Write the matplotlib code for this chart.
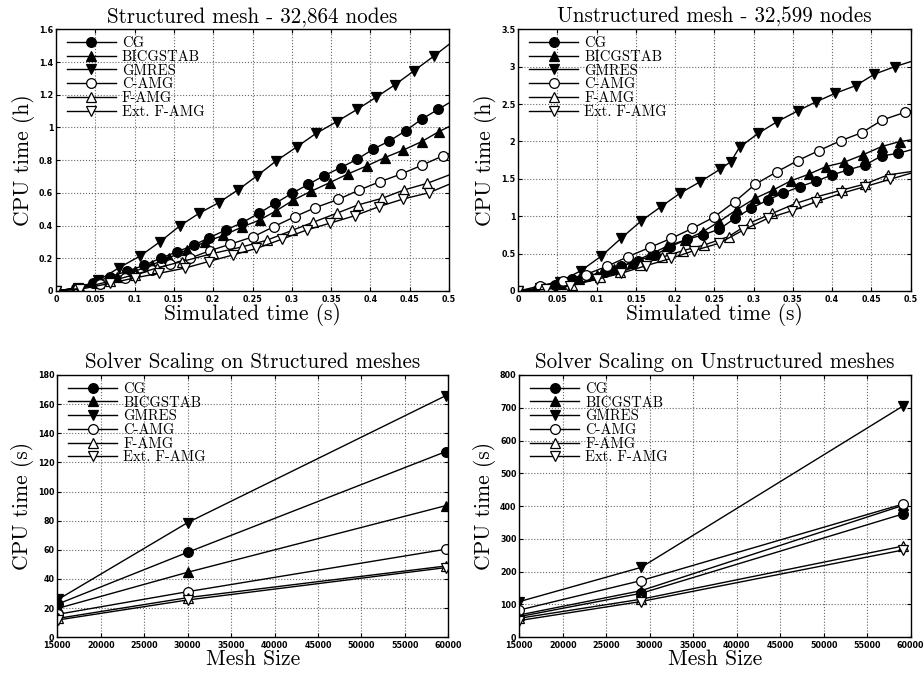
import matplotlib
matplotlib.use("Agg")
import matplotlib.pyplot as plt
from matplotlib.ticker import FormatStrFormatter, MultipleLocator

plt.rcParams['font.size'] = 6
plt.rcParams['axes.linewidth'] = 1.0
plt.rcParams['xtick.direction'] = 'in'
plt.rcParams['ytick.direction'] = 'in'

labels = ["CG", "BICGSTAB", "GMRES", "C-AMG", "F-AMG", "Ext. F-AMG"]
markers = ['o', '^', 'v', 'o', '^', 'v']
filled = [True, True, True, False, False, False]

# --- structured mesh, CPU time (h) vs simulated time (s); last point = line end, no marker
s_cg_x = [0, 0.025, 0.047, 0.069, 0.09, 0.112, 0.133, 0.154, 0.175, 0.195, 0.216, 0.237, 0.258,
          0.279, 0.3, 0.321, 0.341, 0.362, 0.383, 0.403, 0.424, 0.445, 0.465, 0.486, 0.5]
s_cg_y = [0, 0.016, 0.047, 0.088, 0.12, 0.157, 0.2, 0.24, 0.28, 0.326, 0.373, 0.418, 0.475,
          0.536, 0.597, 0.652, 0.705, 0.754, 0.805, 0.866, 0.917, 0.98, 1.05, 1.11, 1.15]
s_bi_x = [0, 0.03, 0.055, 0.078, 0.1, 0.122, 0.144, 0.166, 0.19, 0.213, 0.236, 0.259, 0.28,
          0.302, 0.325, 0.348, 0.371, 0.395, 0.418, 0.442, 0.465, 0.487, 0.5]
s_bi_y = [0, 0.02, 0.05, 0.085, 0.12, 0.16, 0.204, 0.25, 0.3, 0.34, 0.39, 0.434, 0.49,
          0.556, 0.611, 0.662, 0.715, 0.764, 0.815, 0.862, 0.913, 0.974, 1.005]
s_gm_x = [0, 0.028, 0.054, 0.0805, 0.107, 0.132, 0.158, 0.182, 0.207, 0.232, 0.256, 0.28, 0.306,
          0.331, 0.357, 0.383, 0.407, 0.431, 0.455, 0.481, 0.5]
s_gm_y = [0, 0.02, 0.065, 0.143, 0.214, 0.3, 0.4, 0.475, 0.54, 0.62, 0.705, 0.795, 0.88,
          0.964, 1.035, 1.11, 1.184, 1.26, 1.345, 1.437, 1.508]
s_ca_x = [0, 0.028, 0.056, 0.088, 0.122, 0.145, 0.17, 0.196, 0.221, 0.251, 0.277, 0.304, 0.33,
          0.359, 0.386, 0.412, 0.439, 0.466, 0.492, 0.5]
s_ca_y = [0, 0.018, 0.04, 0.08, 0.128, 0.163, 0.2, 0.247, 0.285, 0.332, 0.393, 0.455, 0.51,
          0.56, 0.618, 0.668, 0.715, 0.77, 0.826, 0.84]
s_fa_x = [0, 0.03, 0.069, 0.1, 0.128, 0.16, 0.2, 0.237, 0.268, 0.3, 0.327, 0.357, 0.384,
          0.415, 0.443, 0.472, 0.5]
s_fa_y = [0, 0.015, 0.06, 0.1, 0.14, 0.18, 0.23, 0.27, 0.31, 0.37, 0.42, 0.475, 0.526,
          0.567, 0.618, 0.658, 0.709]
s_ef_x = [0, 0.03, 0.069, 0.1, 0.131, 0.164, 0.194, 0.225, 0.255, 0.287, 0.319, 0.348, 0.38,
          0.411, 0.442, 0.474, 0.5]
s_ef_y = [0, 0.01, 0.047, 0.08, 0.108, 0.14, 0.18, 0.22, 0.26, 0.316, 0.373, 0.414, 0.46,
          0.516, 0.563, 0.6, 0.652]

# --- unstructured mesh
u_cg_x = [0, 0.025, 0.047, 0.068, 0.089, 0.11, 0.131, 0.152, 0.174, 0.193, 0.215, 0.235, 0.256,
          0.276, 0.297, 0.318, 0.337, 0.359, 0.38, 0.4, 0.42, 0.442, 0.463, 0.484, 0.5]
u_cg_y = [0, 0.03, 0.08, 0.156, 0.2, 0.26, 0.33, 0.406, 0.48, 0.59, 0.69, 0.75, 0.825,
          0.972, 1.106, 1.217, 1.306, 1.396, 1.471, 1.552, 1.619, 1.685, 1.806, 1.841, 1.886]
u_bi_x = [0, 0.03, 0.055, 0.078, 0.1, 0.122, 0.145, 0.168, 0.19, 0.212, 0.235, 0.256, 0.279,
          0.302, 0.325, 0.347, 0.37, 0.392, 0.415, 0.439, 0.463, 0.486, 0.5]
u_bi_y = [0, 0.03, 0.1, 0.16, 0.22, 0.3, 0.38, 0.49, 0.6, 0.68, 0.79, 0.928, 1.092,
          1.24, 1.351, 1.471, 1.56, 1.663, 1.721, 1.82, 1.931, 1.998, 2.02]
u_gm_x = [0, 0.028, 0.053, 0.08, 0.106, 0.131, 0.157, 0.182, 0.206, 0.232, 0.257, 0.271, 0.282,
          0.306, 0.33, 0.356, 0.38, 0.404, 0.43, 0.454, 0.48, 0.5]
u_gm_y = [0, 0.04, 0.125, 0.272, 0.468, 0.704, 0.94, 1.128, 1.306, 1.462, 1.627, 1.73, 1.922,
          2.109, 2.265, 2.408, 2.532, 2.644, 2.746, 2.9, 3.0, 3.067]
u_ca_x = [0, 0.0275, 0.057, 0.086, 0.113, 0.14, 0.168, 0.195, 0.222, 0.249, 0.276, 0.302, 0.33,
          0.356, 0.383, 0.411, 0.438, 0.464, 0.493, 0.5]
u_ca_y = [0, 0.067, 0.14, 0.22, 0.33, 0.46, 0.584, 0.704, 0.838, 0.985, 1.195, 1.427, 1.596,
          1.743, 1.877, 2.01, 2.118, 2.287, 2.39, 2.41]
u_fa_x = [0, 0.03, 0.068, 0.104, 0.13, 0.155, 0.183, 0.21, 0.237, 0.268, 0.296, 0.324, 0.354,
          0.381, 0.413, 0.442, 0.471, 0.5]
u_fa_y = [0, 0.02, 0.08, 0.183, 0.25, 0.348, 0.45, 0.54, 0.615, 0.727, 0.914, 1.039, 1.173,
          1.262, 1.351, 1.431, 1.552, 1.596]
u_ef_x = [0, 0.035, 0.066, 0.1, 0.131, 0.163, 0.195, 0.224, 0.256, 0.287, 0.318, 0.349, 0.38,
          0.412, 0.442, 0.474, 0.5]
u_ef_y = [0, 0.02, 0.067, 0.156, 0.236, 0.339, 0.437, 0.54, 0.638, 0.816, 0.972, 1.074, 1.195,
          1.306, 1.396, 1.494, 1.574]

# --- scaling, CPU time (s) vs mesh size
sc_struct_x = [15100, 30000, 59700]
sc_struct = {
    "CG": [22.9, 58.3, 127.4],
    "BICGSTAB": [19.9, 44.6, 90.3],
    "GMRES": [26, 78.7, 165.8],
    "C-AMG": [15.8, 31.3, 60.4],
    "F-AMG": [13, 27.2, 48.9],
    "Ext. F-AMG": [11.9, 25.6, 47.8],
}
sc_unstr_x = [15000, 29000, 59100]
sc_unstr = {
    "CG": [63, 134, 376],
    "BICGSTAB": [68, 142, 402],
    "GMRES": [108.7, 213, 705],
    "C-AMG": [83, 172.8, 406],
    "F-AMG": [58, 116, 278],
    "Ext. F-AMG": [51, 109, 266],
}

struct_series = [(s_cg_x, s_cg_y), (s_bi_x, s_bi_y), (s_gm_x, s_gm_y),
                 (s_ca_x, s_ca_y), (s_fa_x, s_fa_y), (s_ef_x, s_ef_y)]
unstr_series = [(u_cg_x, u_cg_y), (u_bi_x, u_bi_y), (u_gm_x, u_gm_y),
                (u_ca_x, u_ca_y), (u_fa_x, u_fa_y), (u_ef_x, u_ef_y)]

serif = 'cmr10'

fig = plt.figure(figsize=(9.23, 6.75), dpi=100)
ax_tl = fig.add_axes([0.0607, 0.5689, 0.4258, 0.3877])
ax_tr = fig.add_axes([0.5615, 0.5689, 0.4250, 0.3877])
ax_bl = fig.add_axes([0.0621, 0.0559, 0.4237, 0.3886])
ax_br = fig.add_axes([0.5626, 0.0559, 0.4240, 0.3886])


def style_marker(i):
    return dict(marker=markers[i], markersize=7, color='black',
                markerfacecolor='black' if filled[i] else 'white',
                markeredgecolor='black', markeredgewidth=0.9, linewidth=1.0)


def finish(ax, title, xlabel, ylabel):
    ax.set_title(title, fontfamily=serif, fontsize=15.2, pad=5)
    ax.set_xlabel(xlabel, fontfamily=serif, fontsize=15.5, labelpad=-1)
    ax.set_ylabel(ylabel, fontfamily=serif, fontsize=15.5, labelpad=3)
    ax.grid(True, linestyle=':', color='#666666', linewidth=0.8)
    ax.tick_params(top=True, right=True, length=3, width=0.8, labelsize=5.8, pad=2)
    ax.tick_params(axis='x', pad=3)
    for lab in ax.get_xticklabels() + ax.get_yticklabels():
        lab.set_fontweight('bold')
    ax.legend(loc='upper left', frameon=False, handlelength=3.4, numpoints=1,
              labelspacing=0.0, borderaxespad=0.0, handletextpad=0.4,
              bbox_to_anchor=(0.012, 0.995),
              prop={'family': serif, 'size': 10.5})


for ax, series in [(ax_tl, struct_series), (ax_tr, unstr_series)]:
    for i, (xs, ys) in enumerate(series):
        ax.plot(xs, ys, markevery=slice(0, len(xs) - 1), label=labels[i], **style_marker(i))
    ax.set_xlim(0, 0.5)
    ax.xaxis.set_major_locator(MultipleLocator(0.05))
    ax.xaxis.set_major_formatter(FormatStrFormatter('%g'))
    ax.yaxis.set_major_formatter(FormatStrFormatter('%g'))

ax_tl.set_ylim(0, 1.6)
ax_tl.yaxis.set_major_locator(MultipleLocator(0.2))
ax_tr.set_ylim(0, 3.5)
ax_tr.yaxis.set_major_locator(MultipleLocator(0.5))
finish(ax_tl, "Structured mesh - 32,864 nodes", "Simulated time (s)", "CPU time (h)")
finish(ax_tr, "Unstructured mesh - 32,599 nodes", "Simulated time (s)", "CPU time (h)")

for ax, xs, data in [(ax_bl, sc_struct_x, sc_struct), (ax_br, sc_unstr_x, sc_unstr)]:
    for i, name in enumerate(labels):
        ax.plot(xs, data[name], label=name, **style_marker(i))
    ax.set_xlim(15000, 60000)
    ax.xaxis.set_major_locator(MultipleLocator(5000))

ax_bl.set_ylim(0, 180)
ax_bl.yaxis.set_major_locator(MultipleLocator(20))
ax_br.set_ylim(0, 800)
ax_br.yaxis.set_major_locator(MultipleLocator(100))
finish(ax_bl, "Solver Scaling on Structured meshes", "Mesh Size", "CPU time (s)")
finish(ax_br, "Solver Scaling on Unstructured meshes", "Mesh Size", "CPU time (s)")

fig.savefig("out.png", dpi=100)
